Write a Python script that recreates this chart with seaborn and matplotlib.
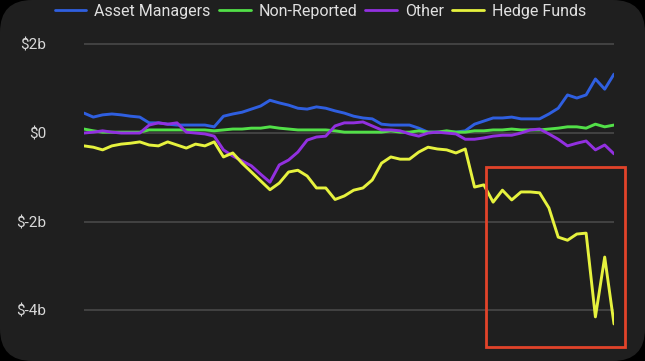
import numpy as np
import pandas as pd
import matplotlib
matplotlib.use("Agg")
import matplotlib.pyplot as plt
import seaborn as sns
from matplotlib.patches import FancyBboxPatch, Rectangle

series_names = ["Asset Managers", "Non-Reported", "Other", "Hedge Funds"]

asset_managers = [0.45, 0.36, 0.41, 0.43, 0.41, 0.38, 0.36, 0.23, 0.23, 0.20,
                  0.18, 0.18, 0.18, 0.18, 0.14, 0.38, 0.43, 0.47, 0.54, 0.61,
                  0.74, 0.68, 0.63, 0.56, 0.54, 0.59, 0.56, 0.50, 0.45, 0.38,
                  0.34, 0.32, 0.20, 0.18, 0.18, 0.18, 0.11, 0.02, 0.02, 0.02,
                  0.02, 0.05, 0.20, 0.27, 0.34, 0.34, 0.36, 0.32, 0.32, 0.32,
                  0.43, 0.56, 0.86, 0.79, 0.86, 1.22, 0.99, 1.33]
non_reported = [0.09, 0.05, 0.02, 0.02, 0.02, 0.02, 0.02, 0.07, 0.07, 0.07,
                0.07, 0.07, 0.07, 0.07, 0.05, 0.07, 0.09, 0.09, 0.11, 0.11,
                0.14, 0.11, 0.09, 0.07, 0.07, 0.07, 0.07, 0.05, 0.02, 0.02,
                0.02, 0.02, 0.02, 0.05, 0.02, 0.02, 0.05, 0.02, 0.02, 0.05,
                0.02, 0.02, 0.05, 0.05, 0.07, 0.07, 0.09, 0.07, 0.07, 0.07,
                0.09, 0.11, 0.14, 0.14, 0.11, 0.20, 0.14, 0.18]
other = [0.00, 0.02, 0.05, 0.02, 0.00, 0.00, 0.00, 0.18, 0.23, 0.20,
         0.23, 0.02, 0.00, -0.02, -0.07, -0.38, -0.52, -0.63, -0.74, -0.93,
         -1.11, -0.72, -0.61, -0.43, -0.16, -0.09, -0.07, 0.16, 0.23, 0.23,
         0.25, 0.16, 0.07, 0.07, 0.05, -0.02, -0.07, 0.00, 0.02, 0.00,
         -0.02, -0.14, -0.14, -0.11, -0.07, -0.05, -0.05, 0.00, 0.07, 0.09,
         -0.02, -0.14, -0.29, -0.23, -0.18, -0.38, -0.27, -0.47]
hedge_funds = [-0.29, -0.32, -0.38, -0.29, -0.25, -0.23, -0.20, -0.27, -0.29, -0.20,
               -0.27, -0.34, -0.25, -0.29, -0.20, -0.54, -0.45, -0.68, -0.88, -1.08,
               -1.28, -1.13, -0.88, -0.84, -0.97, -1.24, -1.24, -1.50, -1.42, -1.29,
               -1.24, -1.06, -0.68, -0.54, -0.59, -0.59, -0.43, -0.32, -0.36, -0.38,
               -0.45, -0.36, -1.22, -1.17, -1.56, -1.29, -1.51, -1.33, -1.33, -1.35,
               -1.69, -2.35, -2.42, -2.28, -2.26, -4.15, -2.80, -4.31]

y_ticks = [2, 0, -2, -4]
y_tick_labels = ["$2b", "$0", "$-2b", "$-4b"]

colors = ["#2f5fe0", "#52e048", "#9230e0", "#e6f23e"]
bg = "#1f1f1f"

n = len(hedge_funds)
df = pd.DataFrame({
    "t": np.tile(np.arange(n), 4),
    "value": asset_managers + non_reported + other + hedge_funds,
    "series": np.repeat(series_names, n),
})

sns.set_theme(style="dark")
plt.rcParams["font.family"] = ["Roboto", "DejaVu Sans"]

fig = plt.figure(figsize=(6.45, 3.61), dpi=100)
fig.patch.set_facecolor("#000000")
card = FancyBboxPatch((0.0, 0.0), 1.0, 1.0, boxstyle="round,pad=0,rounding_size=0.05",
                      transform=fig.transFigure, facecolor=bg, edgecolor="none",
                      mutation_aspect=645 / 361, zorder=-10)
fig.patches.append(card)

ax = fig.add_axes([84 / 645, 0.0302, 530 / 645, 0.8958])
ax.set_zorder(1)
ax.patch.set_alpha(0)

for yv in y_ticks:
    ax.axhline(yv, color="#454545", lw=1.3, zorder=1)

sns.lineplot(data=df, x="t", y="value", hue="series", hue_order=series_names,
             palette=colors, linewidth=2.1, ax=ax, legend=False, zorder=3)

ax.set_xlim(0, n - 1)
ax.set_ylim(-4.9, 2.4)
ax.set_yticks(y_ticks)
ax.set_yticklabels(y_tick_labels)
ax.set_xticks([])
ax.set_xlabel("")
ax.set_ylabel("")
ax.tick_params(axis="y", colors="#d8d8d8", labelsize=11, length=0, pad=27)
for s in ax.spines.values():
    s.set_visible(False)
ax.grid(False)

# highlight box
scale = (n - 1) / 530.0
x0 = (486 - 84) * scale
x1 = (625 - 84) * scale
rect = Rectangle((x0, -4.84), x1 - x0, 4.07, fill=False, edgecolor="#e2432a",
                 lw=2.0, clip_on=False, zorder=4)
ax.add_patch(rect)

handles = [plt.Line2D([], [], color=c, lw=2.0) for c in colors]
leg = fig.legend(handles, series_names, loc="upper center", bbox_to_anchor=(0.497, 1.03),
                 ncol=4, frameon=False, fontsize=11.5, handlelength=2.0,
                 handletextpad=0.5, columnspacing=0.5)
for t in leg.get_texts():
    t.set_color("#e0e0e0")

fig.savefig("out.png", dpi=100, facecolor=fig.get_facecolor())
